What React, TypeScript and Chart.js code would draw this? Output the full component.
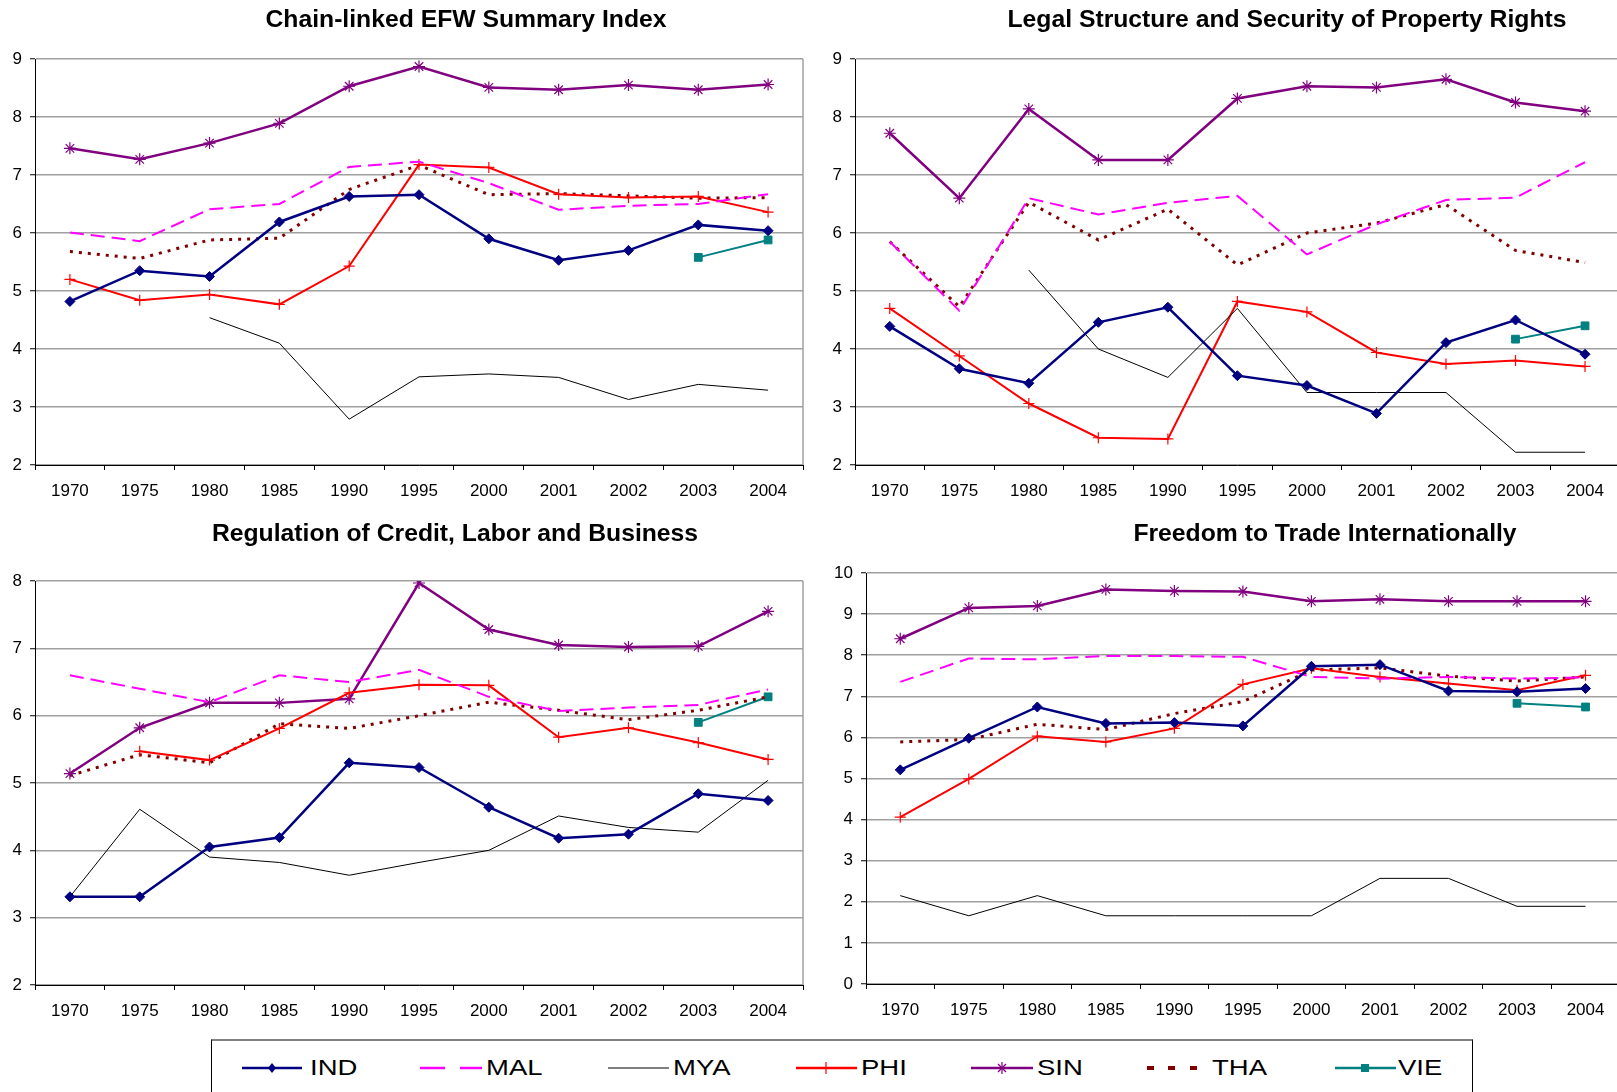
import React, { useEffect, useRef } from "react";
import { Chart, registerables } from "chart.js";

Chart.register(...registerables);

const years = ["1970", "1975", "1980", "1985", "1990", "1995", "2000", "2001", "2002", "2003", "2004"];
const countries = ["IND", "MAL", "MYA", "PHI", "SIN", "THA", "VIE"];

// Chain-linked EFW Summary Index
const summaryIND = [4.82, 5.35, 5.25, 6.19, 6.63, 6.66, 5.9, 5.53, 5.7, 6.14, 6.04];
const summaryMAL = [6.01, 5.86, 6.41, 6.5, 7.14, 7.23, 6.86, 6.4, 6.47, 6.5, 6.67];
const summaryMYA = [null, null, 4.54, 4.1, 2.79, 3.52, 3.57, 3.51, 3.13, 3.39, 3.29];
const summaryPHI = [5.2, 4.84, 4.94, 4.77, 5.43, 7.18, 7.13, 6.67, 6.61, 6.63, 6.36];
const summarySIN = [7.46, 7.27, 7.55, 7.89, 8.53, 8.87, 8.51, 8.47, 8.55, 8.47, 8.56];
const summaryTHA = [5.68, 5.56, 5.88, 5.91, 6.75, 7.17, 6.66, 6.68, 6.64, 6.6, 6.61];
const summaryVIE = [null, null, null, null, null, null, null, null, null, 5.58, 5.88];

// Legal Structure and Security of Property Rights
const legalIND = [4.39, 3.66, 3.41, 4.46, 4.72, 3.54, 3.37, 2.89, 4.11, 4.5, 3.91];
const legalMAL = [5.85, 4.66, 6.6, 6.32, 6.52, 6.64, 5.63, 6.15, 6.57, 6.61, 7.22];
const legalMYA = [null, null, 5.36, 4.0, 3.51, 4.7, 3.25, 3.25, 3.25, 2.22, 2.22];
const legalPHI = [4.7, 3.88, 3.06, 2.47, 2.45, 4.82, 4.64, 3.94, 3.74, 3.8, 3.7];
const legalSIN = [7.72, 6.6, 8.14, 7.26, 7.26, 8.32, 8.53, 8.51, 8.65, 8.25, 8.1];
const legalTHA = [5.85, 4.73, 6.53, 5.88, 6.41, 5.45, 6.0, 6.17, 6.49, 5.7, 5.49];
const legalVIE = [null, null, null, null, null, null, null, null, null, 4.17, 4.4];

// Regulation of Credit, Labor and Business
const regIND = [3.31, 3.31, 4.05, 4.19, 5.3, 5.23, 4.64, 4.18, 4.24, 4.84, 4.74];
const regMAL = [6.6, 6.4, 6.2, 6.6, 6.5, 6.68, 6.28, 6.07, 6.12, 6.16, 6.39];
const regMYA = [3.31, 4.61, 3.9, 3.82, 3.63, 3.82, 4.0, 4.51, 4.34, 4.27, 5.04];
const regPHI = [null, 5.47, 5.34, 5.81, 6.34, 6.46, 6.45, 5.68, 5.82, 5.6, 5.35];
const regSIN = [5.14, 5.82, 6.19, 6.19, 6.25, 7.97, 7.28, 7.05, 7.02, 7.03, 7.55];
const regTHA = [5.11, 5.42, 5.3, 5.88, 5.81, 6.0, 6.2, 6.08, 5.94, 6.08, 6.28];
const regVIE = [null, null, null, null, null, null, null, null, null, 5.9, 6.28];

// Freedom to Trade Internationally
const tradeIND = [5.21, 5.98, 6.74, 6.34, 6.36, 6.28, 7.73, 7.77, 7.13, 7.11, 7.19];
const tradeMAL = [7.35, 7.92, 7.9, 7.98, 7.98, 7.96, 7.47, 7.43, 7.47, 7.43, 7.46];
const tradeMYA = [2.15, 1.66, 2.15, 1.66, 1.66, 1.66, 1.66, 2.57, 2.57, 1.89, 1.89];
const tradePHI = [4.06, 4.99, 6.03, 5.89, 6.22, 7.29, 7.68, 7.47, 7.31, 7.15, 7.51];
const tradeSIN = [8.4, 9.15, 9.2, 9.6, 9.56, 9.55, 9.31, 9.36, 9.31, 9.31, 9.31];
const tradeTHA = [5.89, 5.95, 6.32, 6.19, 6.58, 6.87, 7.64, 7.69, 7.49, 7.37, 7.47];
const tradeVIE = [null, null, null, null, null, null, null, null, null, 6.83, 6.74];

const FONT = "'Liberation Sans', Arial, Helvetica, sans-serif";

const styles: Record<string, any> = {
  IND: { borderColor: "#000080", backgroundColor: "#000080", borderWidth: 2.5, pointStyle: "rectRot", pointRadius: 5, pointBorderWidth: 1, pointBackgroundColor: "#000080", pointBorderColor: "#000080" },
  MAL: { borderColor: "#FF00FF", backgroundColor: "#FF00FF", borderWidth: 2, borderDash: [14, 7], pointRadius: 0 },
  MYA: { borderColor: "#000000", backgroundColor: "#000000", borderWidth: 1, pointRadius: 0 },
  PHI: { borderColor: "#FF0000", backgroundColor: "#FF0000", borderWidth: 2, pointStyle: "cross", pointRadius: 5.5, pointBorderWidth: 1.2, pointBorderColor: "#FF0000" },
  SIN: { borderColor: "#800080", backgroundColor: "#800080", borderWidth: 2.5, pointStyle: "star", pointRadius: 6, pointBorderWidth: 1.2, pointBorderColor: "#800080" },
  THA: { borderColor: "#800000", backgroundColor: "#800000", borderWidth: 3, borderDash: [3, 6], pointRadius: 0 },
  VIE: { borderColor: "#008080", backgroundColor: "#008080", borderWidth: 2, pointStyle: "rect", pointRadius: 5.5, pointBorderWidth: 1, pointBackgroundColor: "#008080", pointBorderColor: "#008080" },
};

const titlePlugin = {
  id: "panelTitle",
  afterDraw(chart: any, _args: any, opts: any) {
    const ctx = chart.ctx;
    ctx.save();
    ctx.translate(opts.x, opts.y);
    ctx.scale(1.03, 1);
    ctx.font = `bold 24px ${FONT}`;
    ctx.fillStyle = "#000";
    ctx.textAlign = "center";
    ctx.textBaseline = "middle";
    ctx.fillText(opts.text, 0, 0);
    ctx.restore();
  },
};

const rightBorderPlugin = {
  id: "rightBorder",
  beforeDatasetsDraw(chart: any) {
    const { ctx, chartArea } = chart;
    ctx.save();
    ctx.strokeStyle = "#a0a0a0";
    ctx.lineWidth = 1.5;
    ctx.beginPath();
    ctx.moveTo(chartArea.right, chartArea.top);
    ctx.lineTo(chartArea.right, chartArea.bottom);
    ctx.stroke();
    ctx.restore();
  },
};

type PanelProps = {
  left: number; top: number; width: number; height: number;
  padTop: number; padRight: number; yW: number; xH: number;
  title: string; titleX: number; titleY: number;
  series: Record<string, (number | null)[]>;
  min: number; max: number;
};

function Panel(p: PanelProps) {
  const ref = useRef<HTMLCanvasElement>(null);
  useEffect(() => {
    const tickFont = { family: FONT, size: 17 };
    const chart = new Chart(ref.current as HTMLCanvasElement, {
      type: "line",
      data: {
        labels: years,
        datasets: countries.map((c) => ({
          label: c,
          data: p.series[c],
          fill: false,
          tension: 0,
          spanGaps: false,
          ...styles[c],
        })),
      },
      options: {
        animation: false,
        responsive: false,
        maintainAspectRatio: false,
        layout: { padding: { top: p.padTop, right: p.padRight, left: 0, bottom: 0 } },
        plugins: {
          legend: { display: false },
          tooltip: { enabled: false },
          title: { display: false },
          panelTitle: { text: p.title, x: p.titleX, y: p.titleY },
        } as any,
        scales: {
          x: {
            type: "category",
            offset: true,
            grid: { display: true, drawOnChartArea: false, drawTicks: true, tickLength: 5, tickColor: "#000", offset: true, color: "#000" },
            border: { color: "#000", width: 1 },
            ticks: { color: "#000", font: tickFont, padding: 11, maxRotation: 0, autoSkip: false },
            afterFit: (s: any) => { s.height = p.xH; },
          },
          y: {
            type: "linear",
            min: p.min,
            max: p.max,
            ticks: { stepSize: 1, color: "#000", font: tickFont, padding: 8 },
            grid: { color: "#a0a0a0", lineWidth: 1.5, tickColor: "#000", tickLength: 5, tickWidth: 1 },
            border: { color: "#000", width: 1 },
            afterFit: (s: any) => { s.width = p.yW; },
          },
        },
      } as any,
      plugins: [rightBorderPlugin, titlePlugin],
    });
    return () => chart.destroy();
  }, []);
  return (
    <canvas
      ref={ref}
      width={p.width}
      height={p.height}
      style={{ position: "absolute", left: p.left, top: p.top, width: p.width, height: p.height }}
    />
  );
}

const legendTextX: Record<string, number> = { IND: 310, MAL: 486, MYA: 673, PHI: 861, SIN: 1037, THA: 1212, VIE: 1398 };

function Legend() {
  const cy = 1068;
  const textStyle = (x: number): React.CSSProperties => ({
    position: "absolute",
    left: x,
    top: cy - 13,
    height: 26,
    lineHeight: "26px",
    fontFamily: FONT,
    fontSize: 22,
    color: "#000",
    transform: "scaleX(1.25)",
    transformOrigin: "left center",
    whiteSpace: "nowrap",
  });
  return (
    <>
      <div
        style={{
          position: "absolute",
          left: 211,
          top: 1039,
          width: 1262,
          height: 70,
          borderLeft: "1px solid #000",
          borderRight: "1px solid #000",
          borderTop: "2px solid #808080",
          boxSizing: "border-box",
          background: "#fff",
        }}
      />
      <svg style={{ position: "absolute", left: 0, top: 0 }} width={1617} height={1092}>
        {/* IND */}
        <line x1={242} y1={cy} x2={302} y2={cy} stroke="#000080" strokeWidth={2.5} />
        <polygon points={`272,${cy - 5} 276,${cy} 272,${cy + 5} 268,${cy}`} fill="#000080" />
        {/* MAL */}
        <line x1={420} y1={cy} x2={445} y2={cy} stroke="#FF00FF" strokeWidth={2.5} />
        <line x1={460} y1={cy} x2={482} y2={cy} stroke="#FF00FF" strokeWidth={2.5} />
        {/* MYA */}
        <line x1={608} y1={cy} x2={669} y2={cy} stroke="#000" strokeWidth={1} />
        {/* PHI */}
        <line x1={796} y1={cy} x2={857} y2={cy} stroke="#FF0000" strokeWidth={2.5} />
        <line x1={826} y1={cy - 6} x2={826} y2={cy + 6} stroke="#FF0000" strokeWidth={1.2} />
        {/* SIN */}
        <line x1={971} y1={cy} x2={1033} y2={cy} stroke="#800080" strokeWidth={2.5} />
        <line x1={1002} y1={cy - 6} x2={1002} y2={cy + 6} stroke="#800080" strokeWidth={1.2} />
        <line x1={998} y1={cy - 4} x2={1006} y2={cy + 4} stroke="#800080" strokeWidth={1.2} />
        <line x1={998} y1={cy + 4} x2={1006} y2={cy - 4} stroke="#800080" strokeWidth={1.2} />
        {/* THA */}
        <rect x={1147} y={cy - 2} width={7} height={4} fill="#800000" />
        <rect x={1168} y={cy - 2} width={7} height={4} fill="#800000" />
        <rect x={1190} y={cy - 2} width={7} height={4} fill="#800000" />
        {/* VIE */}
        <line x1={1335} y1={cy} x2={1396} y2={cy} stroke="#008080" strokeWidth={2.5} />
        <rect x={1361} y={cy - 4} width={8} height={8} fill="#008080" />
      </svg>
      {countries.map((c) => (
        <span key={c} style={textStyle(legendTextX[c])}>{c}</span>
      ))}
    </>
  );
}

export default function App() {
  return (
    <div
      style={{
        position: "fixed",
        left: 0,
        top: 0,
        width: 1617,
        height: 1092,
        overflow: "hidden",
        background: "#fff",
      }}
    >
      <Panel
        left={0} top={0} width={820} height={510}
        padTop={59} padRight={17} yW={35} xH={45}
        title="Chain-linked EFW Summary Index" titleX={466} titleY={20}
        series={{ IND: summaryIND, MAL: summaryMAL, MYA: summaryMYA, PHI: summaryPHI, SIN: summarySIN, THA: summaryTHA, VIE: summaryVIE }}
        min={2} max={9}
      />
      <Panel
        left={810} top={0} width={817} height={510}
        padTop={59} padRight={3} yW={45} xH={45}
        title="Legal Structure and Security of Property Rights" titleX={477} titleY={20}
        series={{ IND: legalIND, MAL: legalMAL, MYA: legalMYA, PHI: legalPHI, SIN: legalSIN, THA: legalTHA, VIE: legalVIE }}
        min={2} max={9}
      />
      <Panel
        left={0} top={510} width={820} height={530}
        padTop={71} padRight={17} yW={35} xH={55}
        title="Regulation of Credit, Labor and Business" titleX={455} titleY={24}
        series={{ IND: regIND, MAL: regMAL, MYA: regMYA, PHI: regPHI, SIN: regSIN, THA: regTHA, VIE: regVIE }}
        min={2} max={8}
      />
      <Panel
        left={810} top={510} width={817} height={530}
        padTop={63} padRight={3} yW={56} xH={56}
        title="Freedom to Trade Internationally" titleX={515} titleY={24}
        series={{ IND: tradeIND, MAL: tradeMAL, MYA: tradeMYA, PHI: tradePHI, SIN: tradeSIN, THA: tradeTHA, VIE: tradeVIE }}
        min={0} max={10}
      />
      <Legend />
    </div>
  );
}
